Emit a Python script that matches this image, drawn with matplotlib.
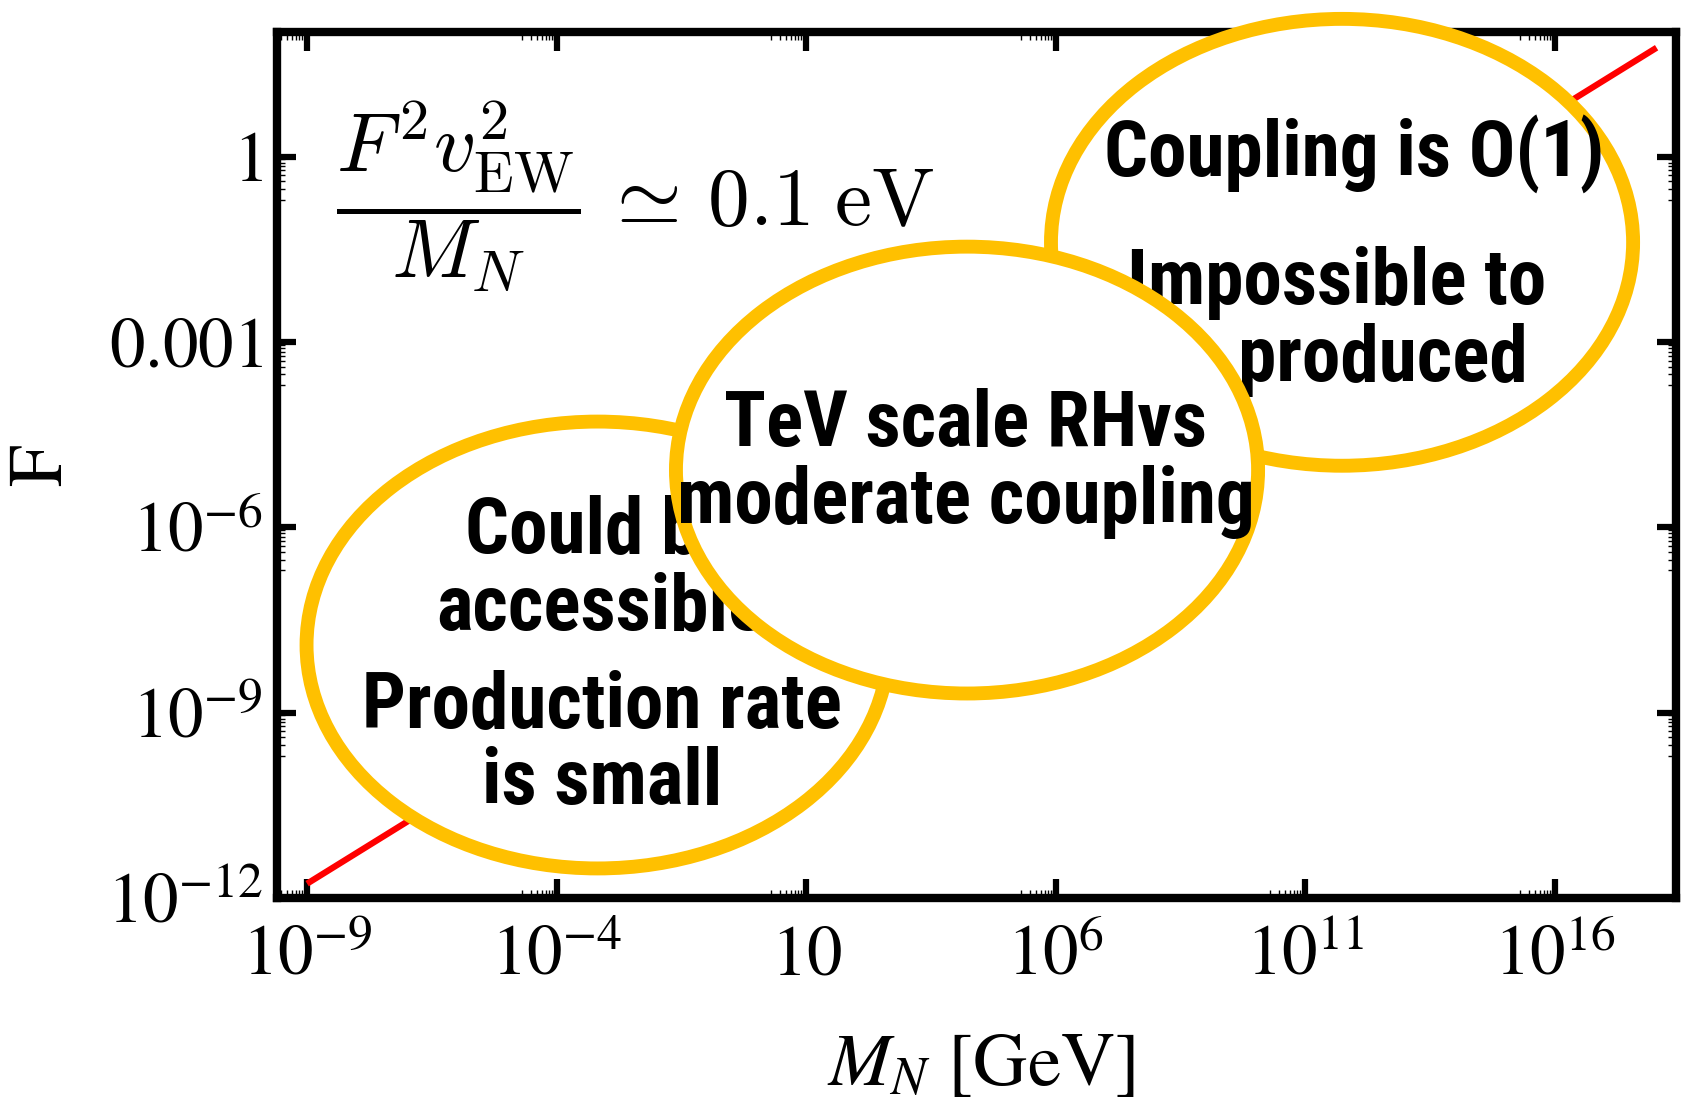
import numpy as np
import matplotlib
matplotlib.use("Agg")
from matplotlib import pyplot as plt
from matplotlib import font_manager
from matplotlib.patches import Ellipse
from matplotlib.ticker import FixedLocator, FixedFormatter, NullFormatter

# ======== data ========
m_n = [1e-9, 1.1e18]          # M_N [GeV], line end points
f_coupling = [1.7e-12, 5.8e1]  # F

x_ticks = [1e-9, 1e-4, 1e1, 1e6, 1e11, 1e16]
x_labels = [r"$10^{-9}$", r"$10^{-4}$", r"$10$", r"$10^{6}$", r"$10^{11}$", r"$10^{16}$"]
y_ticks = [1e-12, 1e-9, 1e-6, 1e-3, 1e0]
y_labels = [r"$10^{-12}$", r"$10^{-9}$", r"$10^{-6}$", r"$0.001$", r"$1$"]

bubble_texts = [
    ["Could be\naccessible", "Production rate\nis small"],
    ["Coupling is O(1)", "Impossible to\nbe produced"],
    ["TeV scale RH\u03bds\nmoderate coupling"],
]
# ============================================

GOLD = "#FFC000"
plt.rcParams["font.family"] = "serif"
plt.rcParams["font.serif"] = ["STIXGeneral", "DejaVu Serif"]
plt.rcParams["mathtext.fontset"] = "stix"


def pick_bubble_font():
    """heavy, narrow sans for the bubble text; falls back to DejaVu Sans Bold"""
    best, best_score = None, None
    fams = ["Noto Sans", "Roboto", "Liberation Sans", "Open Sans", "DejaVu Sans", "Lato", "Inter"]
    for f in font_manager.fontManager.ttflist:
        fn = f.fname.lower()
        if "italic" in fn or "oblique" in fn:
            continue
        if not ("condensed" in fn or "narrow" in fn):
            continue
        if "extracondensed" in fn or "semicondensed" in fn or "ultracondensed" in fn:
            continue
        w = f.weight if isinstance(f.weight, int) else 700 if "bold" in str(f.weight) else 400
        if w < 700:
            continue
        fam_rank = next((i for i, n in enumerate(fams) if f.name.startswith(n)), len(fams))
        score = (fam_rank, -min(w, 900))
        if best_score is None or score < best_score:
            best, best_score = f.fname, score
    if best is None:
        return font_manager.FontProperties(family="DejaVu Sans", weight="bold")
    return font_manager.FontProperties(fname=best)


fig = plt.figure(figsize=(16.9, 10.99), dpi=100)
ax = fig.add_axes([0.164, 0.183, 0.828, 0.788])

ax.set_xscale("log")
ax.set_yscale("log")
ax.set_xlim(10**-9.6, 10**18.44)
ax.set_ylim(1e-12, 10**2.02)

ax.plot(m_n, f_coupling, color="red", lw=4.5, zorder=2, solid_capstyle="butt")

# ticks: major every 5 (x) / 3 (y) decades, minor only in the decade below
ax.xaxis.set_major_locator(FixedLocator(x_ticks))
ax.xaxis.set_major_formatter(FixedFormatter(x_labels))
ax.yaxis.set_major_locator(FixedLocator(y_ticks))
ax.yaxis.set_major_formatter(FixedFormatter(y_labels))
ax.xaxis.set_minor_locator(FixedLocator([t * k / 10 for t in x_ticks for k in range(2, 10)]))
ax.yaxis.set_minor_locator(FixedLocator([t * k / 10 for t in y_ticks for k in range(2, 10)]))
ax.xaxis.set_minor_formatter(NullFormatter())
ax.yaxis.set_minor_formatter(NullFormatter())
ax.tick_params(which="both", direction="in", top=True, right=True)
ax.tick_params(which="major", length=14, width=4.5, labelsize=51)
ax.tick_params(which="minor", length=6, width=1)
ax.tick_params(axis="x", which="major", pad=20)
ax.tick_params(axis="y", which="major", pad=10)
for s in ax.spines.values():
    s.set_linewidth(6)

ax.set_xlabel(r"$M_N$ [GeV]", fontsize=54, va="top")
ax.xaxis.set_label_coords(0.503, -0.156)
ax.set_ylabel("F", fontsize=54)
ax.yaxis.set_label_coords(-0.142, 0.5)

# formula in the upper left
fig.text(0.199, 0.821, r"$\dfrac{F^2 v_{\rm EW}^2}{M_N}\,\simeq\,0.1\;{\rm eV}$",
         fontsize=60, ha="left", va="center", math_fontfamily="cm")

# bubble font size: make "Production rate" about 480 px wide like the reference
fp = pick_bubble_font()
fp.set_size(50)
renderer = fig.canvas.get_renderer()
probe = fig.text(0, 0, "Production rate", fontproperties=fp)
w = probe.get_window_extent(renderer).width
probe.remove()
fp.set_size(min(60, 50 * 480 / w))

# bubbles: (center x, center y) in axes fraction, drawn bottom-left, top-right, then middle on top
centers = [(0.229, 0.292), (0.761, 0.757), (0.493, 0.494)]
text_pos = [[(0.231, 0.379), (0.232, 0.177)],
            [(0.770, 0.859), (0.757, 0.666)],
            [(0.492, 0.502)]]

for i, (c, texts, pos) in enumerate(zip(centers, bubble_texts, text_pos)):
    z = 3 + 2 * i
    ax.add_patch(Ellipse(c, 0.416, 0.516, transform=ax.transAxes, facecolor="white",
                         edgecolor=GOLD, lw=10, zorder=z, clip_on=False))
    for t, p in zip(texts, pos):
        ax.text(p[0], p[1], t, transform=ax.transAxes, zorder=z + 1, fontproperties=fp,
                ha="center", va="center", linespacing=1.05)

fig.savefig("out.png", dpi=100)
